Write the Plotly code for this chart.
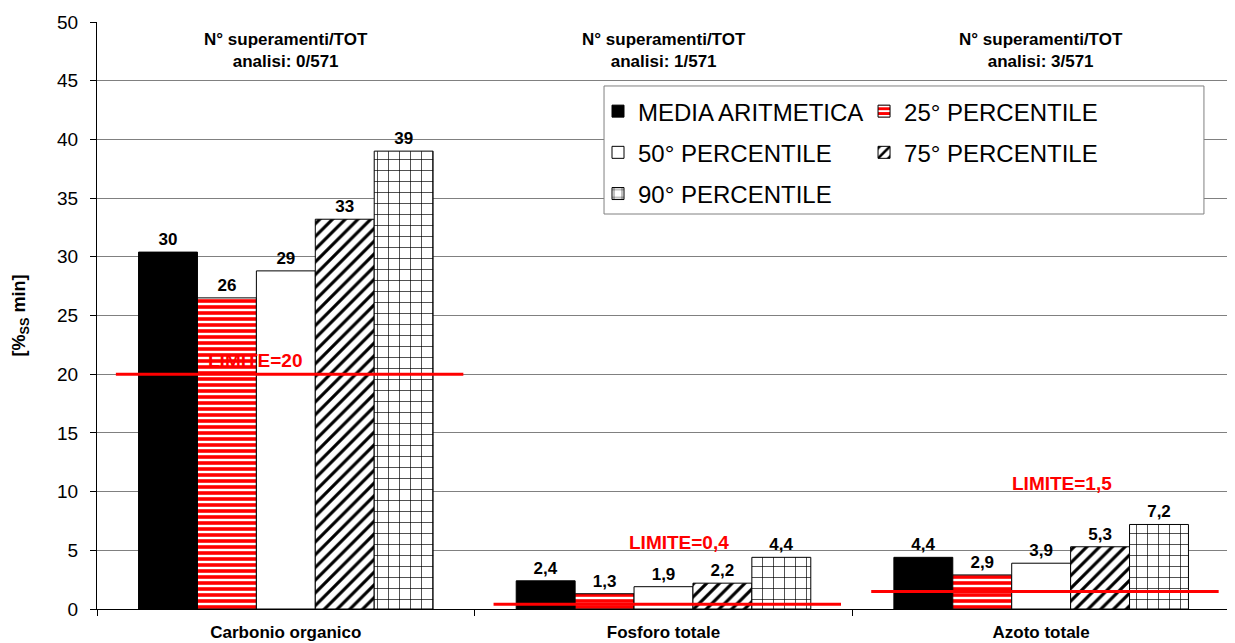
import plotly.graph_objects as go

categories = ["Carbonio organico", "Fosforo totale", "Azoto totale"]
series_names = ["MEDIA ARITMETICA", "25° PERCENTILE", "50° PERCENTILE", "75° PERCENTILE", "90° PERCENTILE"]
media = [30.4, 2.4, 4.4]
p25 = [26.5, 1.3, 2.9]
p50 = [28.8, 1.9, 3.9]
p75 = [33.2, 2.2, 5.3]
p90 = [39.0, 4.4, 7.2]
labels_media = ["30", "2,4", "4,4"]
labels_p25 = ["26", "1,3", "2,9"]
labels_p50 = ["29", "1,9", "3,9"]
labels_p75 = ["33", "2,2", "5,3"]
labels_p90 = ["39", "4,4", "7,2"]
limits = [20, 0.4, 1.5]
limit_labels = ["LIMITE=20", "LIMITE=0,4", "LIMITE=1,5"]
limit_label_y = [20.1, 4.6, 9.6]
limit_label_dx = [-0.08, 0.04, 0.055]
exceed_labels = ["N° superamenti/TOT<br>analisi: 0/571", "N° superamenti/TOT<br>analisi: 1/571", "N° superamenti/TOT<br>analisi: 3/571"]

FONT = "Arial, Liberation Sans, sans-serif"

styles = [
    dict(color="black", pattern=None, legend="legend"),
    dict(color="white", pattern=dict(shape="-", fgcolor="red", bgcolor="white", size=6, solidity=0.6, fillmode="replace"), legend="legend2"),
    dict(color="white", pattern=None, legend="legend"),
    dict(color="white", pattern=dict(shape="/", fgcolor="black", bgcolor="white", size=9, solidity=0.35, fillmode="replace"), legend="legend2"),
    dict(color="white", pattern=dict(shape="+", fgcolor="black", bgcolor="white", size=11, solidity=0.12, fillmode="replace"), legend="legend"),
]
values = [media, p25, p50, p75, p90]
texts = [labels_media, labels_p25, labels_p50, labels_p75, labels_p90]

fig = go.Figure()
for name, vals, txt, st in zip(series_names, values, texts, styles):
    marker = dict(color=st["color"], line=dict(color="black", width=1))
    if st["pattern"]:
        marker["pattern"] = st["pattern"]
    fig.add_trace(go.Bar(
        x=categories, y=vals, name=name, text=txt,
        textposition="outside",
        textfont=dict(family=FONT, size=17, color="black", weight="bold"),
        marker=marker, cliponaxis=False, legend=st["legend"], legendgroup=name,
    ))

shapes = [dict(type="rect", xref="paper", yref="paper", x0=0.4475, x1=0.977, y0=0.6729, y1=0.891,
               fillcolor="white", line=dict(color="#808080", width=1), layer="above")]
annotations = []
for i, (lim, lab) in enumerate(zip(limits, limit_labels)):
    shapes.append(dict(type="line", xref="x", yref="y", x0=i - 0.45, x1=i + 0.47,
                       y0=lim, y1=lim, line=dict(color="red", width=3)))
    annotations.append(dict(xref="x", yref="y", x=i + limit_label_dx[i], y=limit_label_y[i],
                            text="<b>" + lab + "</b>", showarrow=False, yanchor="bottom",
                            font=dict(family=FONT, size=19, color="red")))
for i, t in enumerate(exceed_labels):
    annotations.append(dict(xref="x", yref="paper", x=i, y=0.952, text="<b>" + t + "</b>",
                            showarrow=False, yanchor="middle",
                            font=dict(family=FONT, size=17, color="black"), align="center"))

leg_common = dict(orientation="v", yanchor="top", xanchor="left", bgcolor="rgba(0,0,0,0)",
                  borderwidth=0, font=dict(family=FONT, size=24, color="black"),
                  tracegroupgap=7, traceorder="grouped")

fig.update_layout(
    width=1227, height=635,
    margin=dict(l=89, r=5, t=14, b=34),
    paper_bgcolor="white", plot_bgcolor="white",
    barmode="group", bargap=0.22, bargroupgap=0,
    font=dict(family=FONT, color="black"),
    shapes=shapes, annotations=annotations,
    legend=dict(x=0.4422, y=0.8858, **leg_common),
    legend2=dict(x=0.677, y=0.8858, **leg_common),
    xaxis=dict(showline=True, linecolor="black", linewidth=1, ticks="outside",
               tickson="boundaries", ticklen=6, tickcolor="black", automargin=False,
               ticklabelstandoff=8,
               tickfont=dict(family=FONT, size=17, color="black", weight="bold"),
               showgrid=False),
    yaxis=dict(range=[0, 50], dtick=5, showline=True, linecolor="black", linewidth=1,
               ticks="outside", ticklen=6, tickcolor="black", automargin=False,
               ticklabelstandoff=8,
               tickfont=dict(family=FONT, size=19, color="black"),
               showgrid=True, gridcolor="#808080", gridwidth=1, zeroline=False,
               title=dict(text="<b>[%<sub>SS</sub> min]</b>", font=dict(family=FONT, size=18, color="black"), standoff=26)),
)

fig.write_html("out.html")
